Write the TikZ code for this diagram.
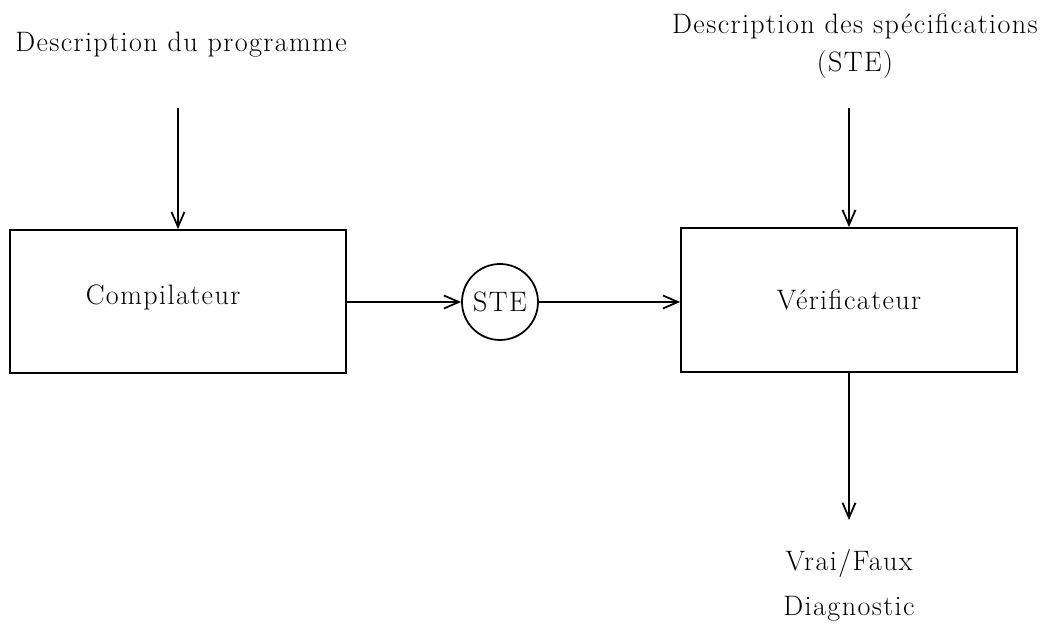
\documentclass[tikz,border=0pt]{standalone}
\usepackage{fontspec}
\setmainfont{Latin Modern Roman}[LetterSpace=5]
\usepackage{tikz}
\usetikzlibrary{shapes,fit,arrows.meta}

\begin{document}
\begin{tikzpicture}[>={Straight Barb[length=3mm,width=2.6mm]}, line width=1pt,
  every node/.style={font=\fontsize{16}{22}\selectfont},
  bloc/.style={draw, minimum width=6.72cm, minimum height=2.86cm},
  rond/.style={draw, circle, minimum size=1.52cm, inner sep=0pt}]
  \useasboundingbox (0,0) rectangle (20.86,12.48);
  \node (prog) at (3.62,11.58) {Description du programme};
  \node[align=center] (spec) at (17.1,11.56) {Description des spécifications\\(STE)};
  \node[bloc, label={[xshift=-0.3cm, yshift=0.09cm]center:Compilateur}] (comp) at (3.56,6.45) {};
  \node[rond] (ste) at (10.0,6.44) {STE};
  \node[bloc, minimum height=2.88cm] (verif) at (16.98,6.48) {Vérificateur};
  \node[align=center, font=\fontsize{16}{25.5}\selectfont] (res) at (16.98,0.78) {Vrai/Faux\\Diagnostic};
  \coordinate (a) at (3.56,10.32);
  \coordinate (b) at (16.98,10.32);
  \coordinate (c) at (16.98,2.08);
  \draw[->] (a) -- (comp.north);
  \draw[->] (b) -- (verif.north);
  \draw[->] (comp.east |- ste.west) -- (ste.west);
  \draw[->] (ste.east) -- (verif.west |- ste.east);
  \draw[->] (verif.south) -- (c);
\end{tikzpicture}
\end{document}
